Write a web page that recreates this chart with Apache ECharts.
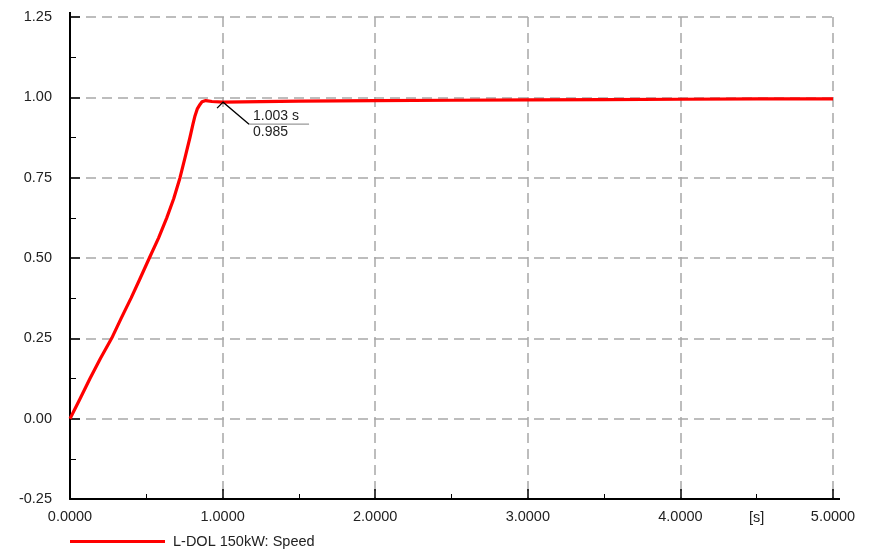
<!DOCTYPE html>
<html>
<head>
<meta charset="utf-8">
<style>
  html, body { margin: 0; padding: 0; background: #fff; }
  #chart { width: 871px; height: 552px; }
</style>
<script src="https://cdn.jsdelivr.net/npm/echarts@6/dist/echarts.min.js"></script>
</head>
<body>
<div id="chart"></div>
<script>
// Motor speed run-up, direct-on-line start
const seriesName = 'L-DOL 150kW: Speed';
const timeS = [0, 0.065, 0.131, 0.2, 0.273, 0.335, 0.40, 0.46, 0.52, 0.58, 0.634, 0.68, 0.721, 0.755, 0.786, 0.805, 0.819, 0.835, 0.852, 0.865, 0.878, 0.89, 0.93, 1.003, 1.5, 2.0, 2.5, 3.0, 3.5, 4.0, 4.5, 5.0];
const speed = [0, 0.061, 0.125, 0.188, 0.25, 0.312, 0.375, 0.437, 0.5, 0.562, 0.625, 0.685, 0.75, 0.815, 0.875, 0.915, 0.942, 0.965, 0.978, 0.986, 0.989, 0.990, 0.987, 0.985, 0.988, 0.990, 0.991, 0.992, 0.993, 0.994, 0.995, 0.995];
const cursorTime = 1.003;
const cursorValue = 0.985;
const xUnitLabel = '[s]';
const xUnitAt = 4.5;

const FONT = '"Liberation Sans", Arial, sans-serif';
const chart = echarts.init(document.getElementById('chart'));

const gridLine = { show: true, lineStyle: { color: '#a8a8a8', width: 1.5, type: [10, 6] } };

chart.setOption({
  animation: false,
  backgroundColor: '#ffffff',
  grid: { left: 70, right: 38, top: 17, bottom: 53 },
  legend: {
    left: 70, top: 534, padding: 0,
    itemWidth: 95, itemHeight: 3, itemGap: 8,
    icon: 'rect',
    textStyle: { fontFamily: FONT, fontSize: 14.5, color: '#222', padding: [0, 0, 0, 3] },
    data: [seriesName]
  },
  xAxis: {
    type: 'value', min: 0, max: 5, interval: 1,
    axisLine: { show: true, onZero: false, lineStyle: { color: '#000', width: 2 } },
    axisTick: { show: true, inside: true, length: 10, lineStyle: { color: '#000', width: 1.5 } },
    minorTick: { show: true, splitNumber: 2, length: 5, lineStyle: { color: '#000', width: 1 } },
    axisLabel: { margin: 10, fontFamily: FONT, fontSize: 14.5, color: '#222', formatter: v => v.toFixed(4) },
    splitLine: gridLine
  },
  yAxis: {
    type: 'value', min: -0.25, max: 1.25, interval: 0.25,
    axisLine: { show: true, onZero: false, lineStyle: { color: '#000', width: 2 } },
    axisTick: { show: true, inside: true, length: 10, lineStyle: { color: '#000', width: 1.5 } },
    minorTick: { show: true, splitNumber: 2, length: 6, lineStyle: { color: '#000', width: 1 } },
    axisLabel: { margin: 18, fontFamily: FONT, fontSize: 14.5, color: '#222', formatter: v => v.toFixed(2) },
    splitLine: gridLine
  },
  series: [{
    name: seriesName,
    type: 'line',
    data: timeS.map((t, i) => [t, speed[i]]),
    showSymbol: false,
    lineStyle: { color: '#ff0000', width: 3.2, join: 'round' },
    itemStyle: { color: '#ff0000' },
    z: 3
  }]
});

// Cursor readout, axis unit and axis-line overhang, anchored through the chart's own scales
const p = chart.convertToPixel({ gridIndex: 0 }, [cursorTime, cursorValue]);
const u = chart.convertToPixel({ gridIndex: 0 }, [xUnitAt, -0.25]);
const o = chart.convertToPixel({ gridIndex: 0 }, [0, -0.25]);
const tr = chart.convertToPixel({ gridIndex: 0 }, [5, 1.25]);
const ex = p[0] + 26, ey = p[1] + 22;
chart.setOption({
  graphic: [
    { type: 'line', z: 10, shape: { x1: o[0], y1: tr[1], x2: o[0], y2: tr[1] - 5 },
      style: { stroke: '#000', lineWidth: 2 } },
    { type: 'line', z: 10, shape: { x1: tr[0], y1: o[1], x2: tr[0] + 7, y2: o[1] },
      style: { stroke: '#000', lineWidth: 2 } },
    { type: 'polyline', z: 10, shape: { points: [[p[0] - 6, p[1] + 6], [p[0], p[1]], [ex, ey]] },
      style: { stroke: '#000', lineWidth: 1.3, fill: null } },
    { type: 'line', z: 10, shape: { x1: ex, y1: ey, x2: ex + 60, y2: ey },
      style: { stroke: '#999', lineWidth: 1.3 } },
    { type: 'text', z: 10, x: ex + 4, y: ey - 1,
      style: { text: cursorTime.toFixed(3) + ' s', font: '14px ' + FONT, fill: '#222', textVerticalAlign: 'bottom' } },
    { type: 'text', z: 10, x: ex + 4, y: ey + 1,
      style: { text: cursorValue.toFixed(3), font: '14px ' + FONT, fill: '#222', textVerticalAlign: 'top' } },
    { type: 'text', z: 10, x: u[0], y: u[1] + 11,
      style: { text: xUnitLabel, font: '14.5px ' + FONT, fill: '#222', textAlign: 'center', textVerticalAlign: 'top' } }
  ]
});
</script>
</body>
</html>
